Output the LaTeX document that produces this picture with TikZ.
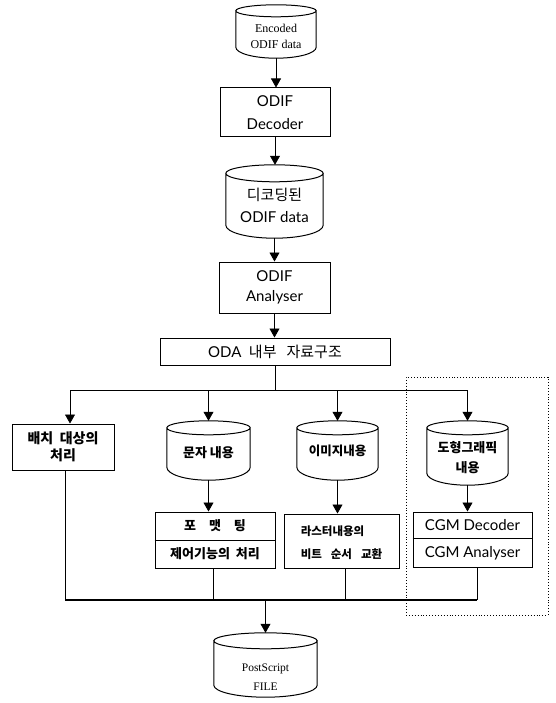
\documentclass[tikz,border=0pt]{standalone}
\usepackage{fontspec}
\setmainfont{Liberation Serif}
\newfontfamily\krfont{Noto Sans CJK KR}
\newfontfamily\latf{Lato}
\usetikzlibrary{arrows.meta,calc}
\newcommand\drawcyl[3]{%
  \draw[cylline] let \p1=(#1.north west), \p2=(#1.south east), \n1={(\x2-\x1)/2} in
    ({\x1},{\y1-#2}) -- ({\x1},{\y2+#3}) arc[start angle=180,end angle=360,x radius=\n1,y radius=#3] -- ({\x2},{\y1-#2})
    ({\x1+\n1},{\y1-#2}) ellipse[x radius=\n1,y radius=#2];
}
\tikzset{
  box/.style={draw, line width=1pt, inner sep=0pt, align=center},
  cyl/.style={inner sep=0pt},
  txt/.style={inner sep=0pt, align=center},
  cylline/.style={line width=1pt},
  arr/.style={line width=0.7pt, -{Triangle[width=10pt,length=9pt]}},
  ln/.style={line width=0.7pt},
  bus/.style={line width=1.4pt},
}
\begin{document}
\begin{tikzpicture}[x=1pt,y=-1pt]
\useasboundingbox (0,0) rectangle (555,703);

% top column
\node[cyl, minimum width=80pt, minimum height=53pt] (c1) at (276,31.5) {};
\node[txt, font=\fontsize{12}{16}\selectfont] (c1t) at (276,36) {Encoded\\ODIF data};
\node[box, minimum width=110pt, minimum height=49pt, font=\latf\fontsize{15}{23}\selectfont] (dec) at (275,112.5) {ODIF\\Decoder};
\node[cyl, minimum width=97pt, minimum height=73pt] (c2) at (274.5,201.5) {};
\node[txt, font=\fontsize{15}{22}\selectfont] (c2t) at (274.5,205) {{\krfont 디코딩된}\\{\latf ODIF data}};
\node[box, minimum width=111pt, minimum height=51pt, font=\latf\fontsize{15}{20}\selectfont] (ana) at (274.5,287.5) {ODIF\\Analyser};
\node[box, minimum width=230pt, minimum height=27pt, font=\fontsize{15}{18}\selectfont] (oda) at (275,351.5) {{\latf ODA}\ \ {\krfont 내부\ \ \ 자료구조}};

% group frame
\node[draw, dotted, line width=0.9pt, minimum width=142pt, minimum height=238pt, inner sep=0pt] (grp) at (477,496) {};

% branches
\node[box, minimum width=102pt, minimum height=46pt, font=\krfont\bfseries\fontsize{14}{17}\selectfont] (b1) at (63,447) {배치\ \ 대상의\\처리};
\node[cyl, minimum width=83pt, minimum height=59pt] (c3) at (208.5,450.5) {};
\node[txt, font=\krfont\bfseries\fontsize{13}{16}\selectfont] (c3t) at (208.5,453) {문자\ 내용};
\node[cyl, minimum width=81pt, minimum height=59pt] (c4) at (337.5,450.5) {};
\node[txt, font=\krfont\bfseries\fontsize{12.5}{16}\selectfont] (c4t) at (337.5,451) {이미지내용};
\node[cyl, minimum width=81pt, minimum height=64pt] (c5) at (467.5,453) {};
\node[txt, font=\krfont\bfseries\fontsize{13}{20}\selectfont] (c5t) at (467.5,458) {도형그래픽\\내용};

\node[box, minimum width=120pt, minimum height=56pt] (f1) at (215,540) {};
\node[txt, font=\krfont\bfseries\fontsize{13}{16}\selectfont] (f1a) at (215,526) {포\quad 맷\quad 팅};
\node[txt, font=\krfont\bfseries\fontsize{13}{16}\selectfont] (f1b) at (215,554) {제어기능의\ \ 처리};
\node[box, minimum width=115pt, minimum height=54pt] (r1) at (341.5,541) {};
\node[txt, align=left, font=\krfont\bfseries\fontsize{11.5}{23}\selectfont] (r1t) at (341.5,543) {라스터내용의\\비트\hspace{9pt}순서\hspace{9pt}교환};
\node[box, minimum width=119pt, minimum height=55pt] (g1) at (472.5,539.5) {};
\node[txt, font=\latf\fontsize{15}{18}\selectfont] (g1a) at (472.5,525) {CGM Decoder};
\node[txt, font=\latf\fontsize{15}{18}\selectfont] (g1b) at (472.5,553) {CGM Analyser};

\node[cyl, minimum width=103pt, minimum height=64pt] (c6) at (265.5,665) {};
\node[txt, font=\fontsize{11.5}{19}\selectfont] (c6t) at (265.5,677) {PostScript\\FILE};

% cylinders
\drawcyl{c1}{6pt}{11pt}
\drawcyl{c2}{8.5pt}{13pt}
\drawcyl{c3}{7pt}{13pt}
\drawcyl{c4}{7pt}{13pt}
\drawcyl{c5}{7pt}{12pt}
\drawcyl{c6}{8pt}{12pt}

% dividers
\draw[line width=1pt] (f1.west) -- (f1.east);
\draw[line width=1pt] ([yshift=1.5pt]g1.west) -- ([yshift=1.5pt]g1.east);

% main flow
\draw[arr] (c1.south) -- (c1.south |- dec.north);
\draw[arr] (dec.south) -- (dec.south |- c2.north);
\draw[arr] (c2.south) -- (c2.south |- ana.north);
\draw[arr] (ana.south) -- (ana.south |- oda.north);

\coordinate (br) at (275,390);
\draw[ln] (oda.south) -- (br);
\draw[arr] (br) -| ([xshift=7pt]b1.north);
\draw[arr] (br) -| (c5.north);
\draw[arr] (c3.north |- br) -- (c3.north);
\draw[arr] (c4.north |- br) -- (c4.north);

\draw[arr] (c3.south) -- (c3.south |- f1.north);
\draw[arr] (c4.south) -- (c4.south |- r1.north);
\draw[arr] (c5.south) -- (c5.south |- g1.north);

% bus
\coordinate (busL) at (65,600);
\coordinate (busR) at (477,600);
\draw[ln] ([xshift=2pt]b1.south) -- (busL);
\draw[ln] ([xshift=-2pt]f1.south) -- ([xshift=-2pt]f1.south |- busL);
\draw[ln] ([xshift=3.5pt]r1.south) -- ([xshift=3.5pt]r1.south |- busL);
\draw[ln] ([xshift=4.5pt]g1.south) -- (busR);
\draw[bus] (busL) -- (busR);
\draw[arr] (c6.north |- busL) -- (c6.north);
\end{tikzpicture}
\end{document}
